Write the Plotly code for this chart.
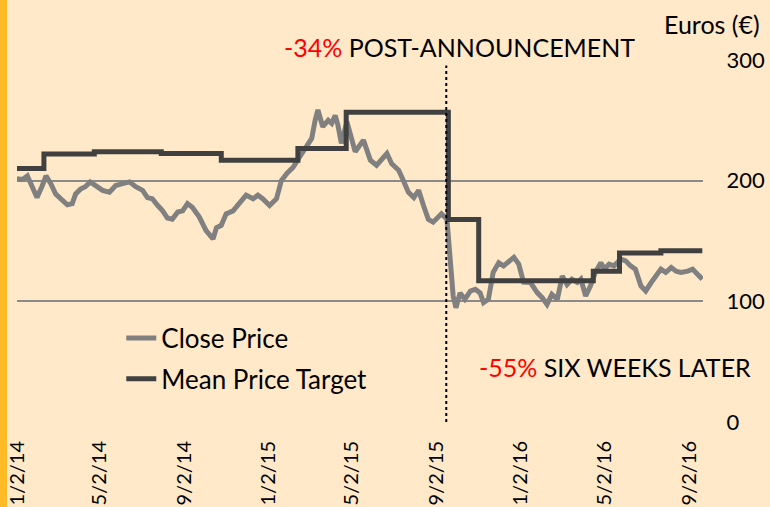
import plotly.graph_objects as go

# ---- Close price (date, euros) ----
close_dates = [
    "2014-01-02","2014-01-10","2014-01-17","2014-01-22","2014-01-31","2014-02-07","2014-02-13",
    "2014-02-20","2014-02-27","2014-03-09","2014-03-16","2014-03-23","2014-03-28","2014-04-04",
    "2014-04-11","2014-04-18","2014-04-26","2014-05-06","2014-05-16","2014-05-25","2014-06-04",
    "2014-06-14","2014-06-23","2014-07-03","2014-07-10","2014-07-17","2014-07-25","2014-08-01",
    "2014-08-08","2014-08-15","2014-08-23","2014-08-30","2014-09-06","2014-09-13","2014-09-23",
    "2014-10-03","2014-10-13","2014-10-18","2014-10-25","2014-11-01","2014-11-11","2014-11-21",
    "2014-11-30","2014-12-10","2014-12-17","2014-12-24","2015-01-03","2015-01-13","2015-01-20",
    "2015-01-28","2015-02-06","2015-02-16","2015-02-25","2015-03-05","2015-03-10","2015-03-14",
    "2015-03-21","2015-03-29","2015-04-03","2015-04-08","2015-04-12","2015-04-17","2015-04-25",
    "2015-04-30","2015-05-07","2015-05-19","2015-05-29","2015-06-07","2015-06-14","2015-06-22",
    "2015-06-29","2015-07-09","2015-07-16","2015-07-23","2015-07-31","2015-08-07","2015-08-14",
    "2015-08-21","2015-08-28","2015-09-03","2015-09-09","2015-09-17","2015-09-22","2015-09-26",
    "2015-09-30","2015-10-06","2015-10-13","2015-10-21","2015-10-28","2015-11-04","2015-11-09",
    "2015-11-16","2015-11-23","2015-12-01","2015-12-08","2015-12-16","2015-12-23","2015-12-30",
    "2016-01-06","2016-01-16","2016-01-26","2016-02-02","2016-02-09","2016-02-16","2016-02-24",
    "2016-03-02","2016-03-09","2016-03-16","2016-03-24","2016-03-29","2016-04-05","2016-04-12",
    "2016-04-19","2016-04-27","2016-05-02","2016-05-09","2016-05-16","2016-05-26","2016-06-02",
    "2016-06-09","2016-06-16","2016-06-24","2016-07-01","2016-07-09","2016-07-16","2016-07-23",
    "2016-07-30","2016-08-07","2016-08-14","2016-08-21","2016-08-31","2016-09-07","2016-09-14",
    "2016-09-21",
]
close_values = [
    201.7, 201, 204, 197.5, 186, 195, 204,
    197.5, 189, 183.6, 180, 181, 189, 193,
    195, 199, 196, 192, 190.5, 196, 197.5,
    199, 195, 192, 186, 185, 179.4, 175,
    169, 168, 174, 175, 181, 178, 170,
    158.6, 151.7, 161, 163, 172.5, 175, 182,
    188, 185, 188, 185, 179.4, 185, 200,
    206, 211, 220, 228, 235, 250, 258.6,
    244.7, 250, 247.5, 254, 246, 231, 249,
    238, 224, 233.6, 217, 212.8, 217, 222.5,
    214, 208.6, 200, 190.5, 186, 192, 179.4,
    168, 165.6, 169.7, 172.5, 168, 135, 104.4,
    94.7, 107, 101.7, 108.6, 110, 107, 99,
    101.7, 124, 132, 129.4, 133.6, 136.4, 130.8,
    116, 115.6, 107, 103, 97.5, 105.8, 101.7,
    121, 114, 118.3, 115.6, 118.3, 104.4, 112.8,
    124, 132, 126.7, 130.8, 129.4, 135, 133.6,
    129.4, 126.7, 112.8, 108.6, 115.6, 121, 126.7,
    124, 128, 125, 124, 125, 126.7, 122.5,
    118.3,
]

# ---- Mean analyst price target (step changes) ----
target_dates = [
    "2014-01-02","2014-02-10","2014-04-24","2014-07-30","2014-10-25","2015-02-13",
    "2015-04-24","2015-09-19","2015-11-02","2016-04-16","2016-05-24","2016-07-23","2016-09-21",
]
target_values = [210, 222, 224, 222.5, 217, 226.7, 256.7, 167.8, 117, 125, 140, 142, 142]

announcement_date = "2015-09-16"

x_tick_dates = ["2014-01-02","2014-05-02","2014-09-02","2015-01-02","2015-05-02",
                "2015-09-02","2016-01-02","2016-05-02","2016-09-02"]
y_ticks = [0, 100, 200, 300]

BG = "#FFE9C9"
FONT = "Lato"

fig = go.Figure()
fig.add_trace(go.Scatter(
    x=close_dates, y=close_values, mode="lines", name="Close Price",
    line=dict(color="#808080", width=5), legendgroup="a",
))
fig.add_trace(go.Scatter(
    x=target_dates, y=target_values, mode="lines", name="Mean Price Target",
    line=dict(color="#404040", width=5, shape="hv"), legendgroup="b",
))

fig.add_shape(type="line", xref="x", yref="paper", x0=announcement_date, x1=announcement_date,
              y0=0, y1=0.985, line=dict(color="black", width=2, dash="dot"))

# left orange bar
fig.add_shape(type="rect", xref="paper", yref="paper", x0=-0.0248, x1=-0.0146, y0=-0.3,
              y1=1.3, fillcolor="#FFBA26", line=dict(width=0), layer="below")

fig.add_annotation(xref="paper", yref="paper", x=1.086, y=1.10, xanchor="right", yanchor="middle",
                   text="Euros (€)", showarrow=False, font=dict(family=FONT, size=25, color="black"))
fig.add_annotation(xref="paper", yref="paper", x=0.387, y=1.035, xanchor="left", yanchor="middle",
                   text="<span style='color:#FF0000'>-34%</span> POST-ANNOUNCEMENT", showarrow=False,
                   font=dict(family=FONT, size=25, color="black"))
fig.add_annotation(xref="paper", yref="paper", x=0.671, y=0.152, xanchor="left", yanchor="middle",
                   text="<span style='color:#FF0000'>-55%</span> SIX WEEKS LATER", showarrow=False,
                   font=dict(family=FONT, size=25, color="black"))

fig.update_layout(
    width=770, height=507,
    margin=dict(l=17, r=67, t=60, b=85, autoexpand=False),
    paper_bgcolor=BG, plot_bgcolor=BG,
    font=dict(family=FONT, color="black"),
    showlegend=True,
    legend=dict(x=0.152, y=0.175, xanchor="left", yanchor="middle", bgcolor="rgba(0,0,0,0)",
                font=dict(family=FONT, size=26, color="black"), traceorder="grouped",
                tracegroupgap=4),
    xaxis=dict(
        type="date", range=["2014-01-02", "2016-09-22"], automargin=False,
        tickvals=x_tick_dates, tickformat="%-m/%-d/%y", tickangle=-90,
        tickfont=dict(family=FONT, size=20), showgrid=False, zeroline=False,
        showline=False, ticks="outside", ticklen=10, tickcolor="rgba(0,0,0,0)",
    ),
    yaxis=dict(
        side="right", range=[0, 300], tickvals=y_ticks, showgrid=True, automargin=False,
        gridcolor="#8A8A8A", gridwidth=2, zeroline=False, showline=False,
        tickfont=dict(family=FONT, size=22), ticks="outside", ticklen=18,
        tickcolor="rgba(0,0,0,0)",
    ),
)

fig.write_html("out.html", config={"displayModeBar": False},
               post_script="document.body.style.margin='0';")
